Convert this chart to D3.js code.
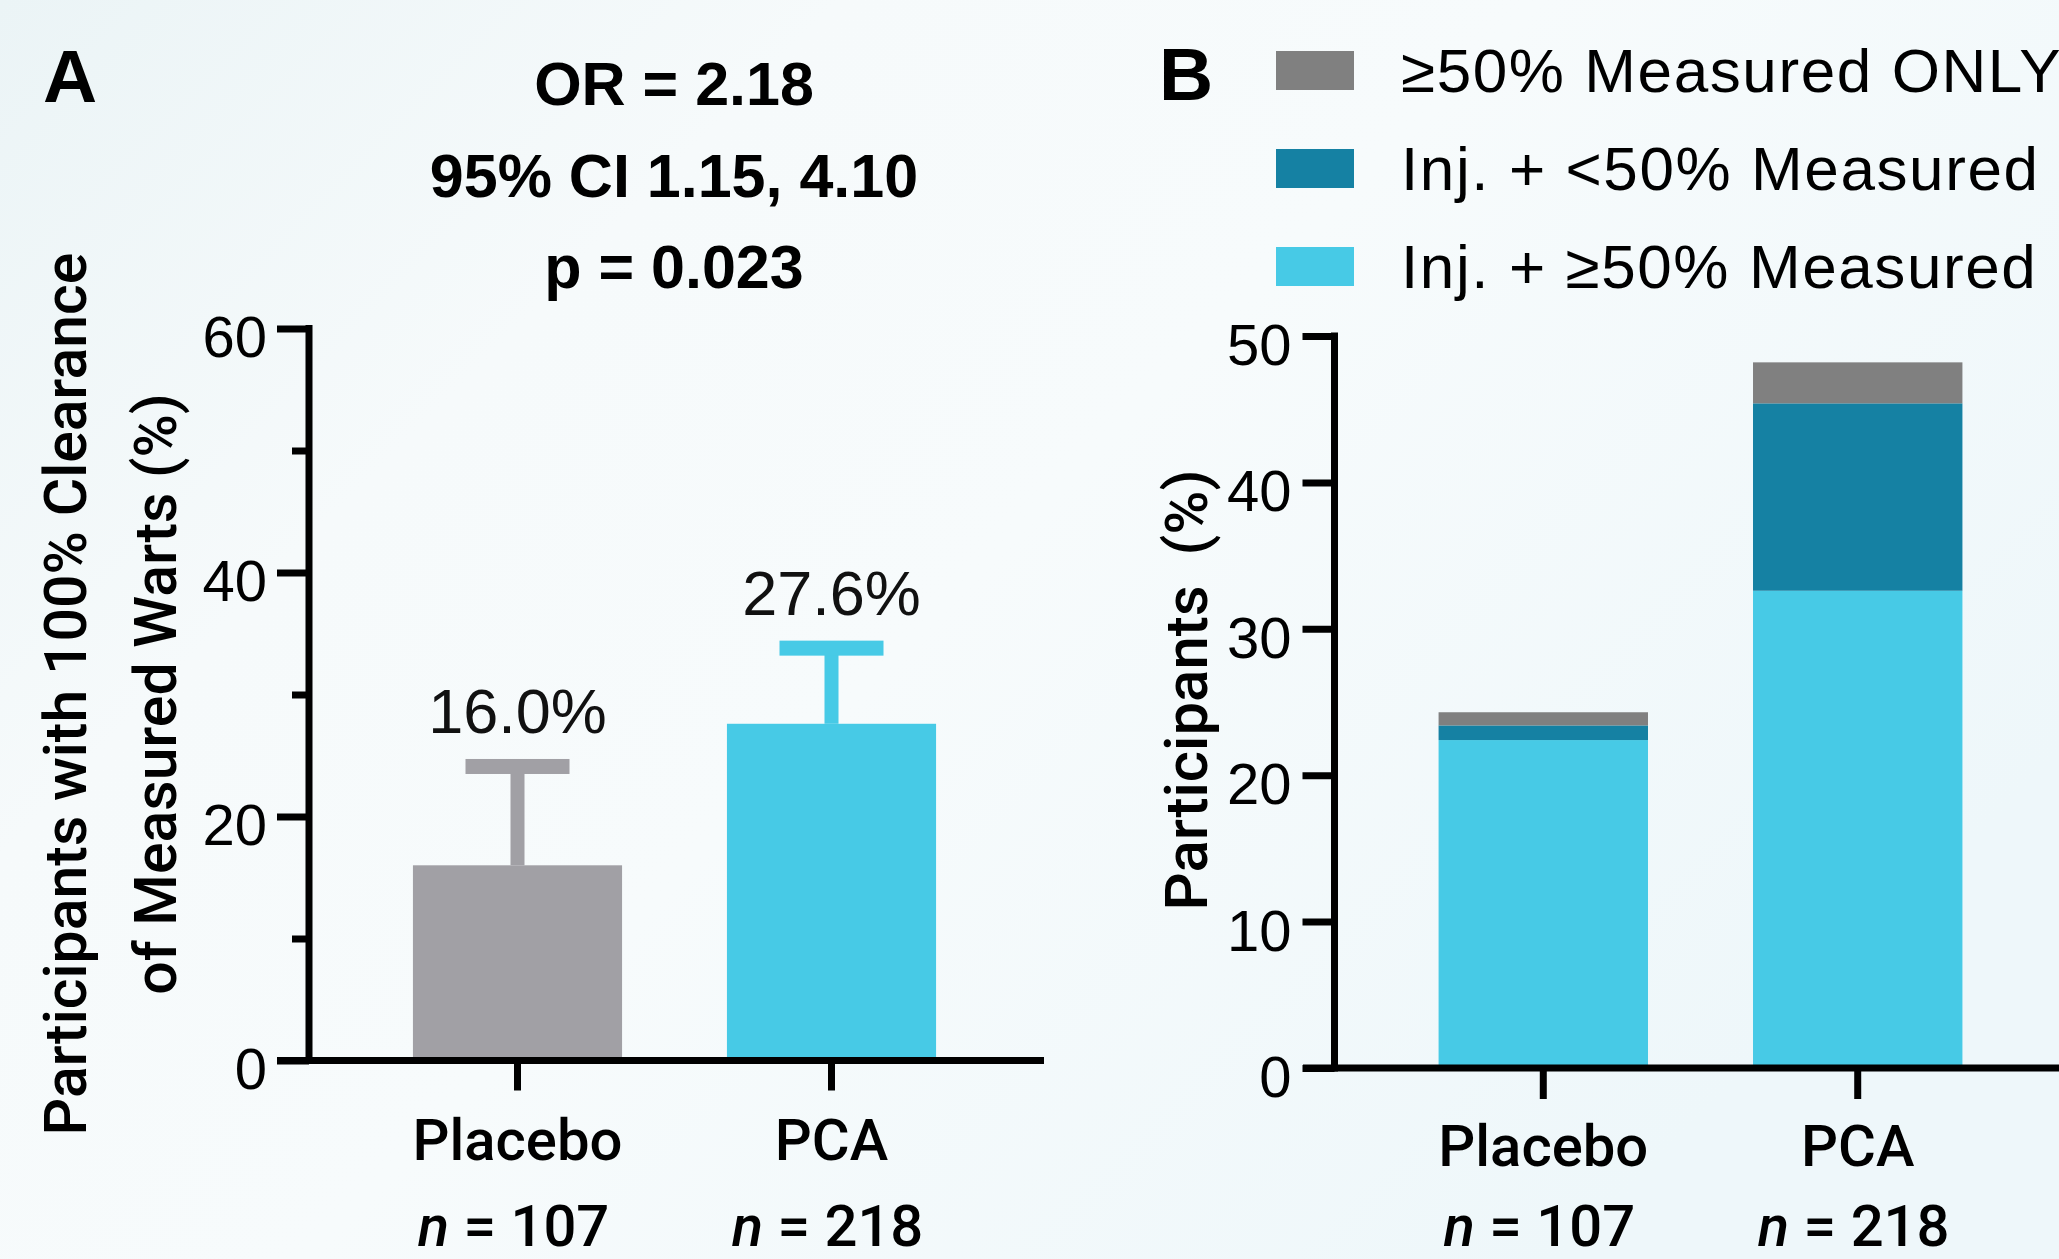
<!DOCTYPE html>
<html><head><meta charset="utf-8">
<script src="https://cdn.jsdelivr.net/npm/d3@7"></script>
<style>html,body{margin:0;padding:0;overflow:hidden;background:#f5fafc}svg{display:block}</style>
</head><body><script>
// ---------- data ----------
const categories = ["Placebo", "PCA"];
const nValues = ["107", "218"];
// Panel A: % participants with 100% clearance and upper 95% CI
const clearance = [16.0, 27.6];
const ciUpper = [24.1, 33.8];
const valueLabels = ["16.0%", "27.6%"];
const statsLines = ["OR = 2.18", "95% CI 1.15, 4.10", "p = 0.023"];
const ticksA = [0, 20, 40, 60];
const minorTicksA = [10, 30, 50];
// Panel B: stacked segments (bottom to top)
const injGE50 = [22.4, 32.6];      // Inj. + ≥50% Measured
const injLT50 = [1.0, 12.8];       // Inj. + <50% Measured
const measuredOnly = [0.9, 2.8];   // ≥50% Measured ONLY
const seriesKeys = ["injGE50", "injLT50", "measuredOnly"];
const seriesNames = ["Inj. + ≥50% Measured", "Inj. + <50% Measured", "≥50% Measured ONLY"];
const ticksB = [0, 10, 20, 30, 40, 50];

// ---------- setup ----------
const W = 2059, H = 1259;
const SANS = "'Liberation Sans', Arial, Helvetica, sans-serif";
const ROBOTO = "Roboto, 'Liberation Sans', Arial, sans-serif";
const colA = ["#a1a0a5", "#47cae6"];
const colB = {injGE50: "#47cae6", injLT50: "#1581a3", measuredOnly: "#808080"};

const svg = d3.select("body").append("svg").attr("width", W).attr("height", H);
const defs = svg.append("defs");
const grad = defs.append("linearGradient").attr("id", "bg")
  .attr("x1", "0").attr("y1", "0").attr("x2", "1").attr("y2", "0.6");
[["0", "#ebf4f6"], ["0.3", "#f6fafb"], ["0.55", "#f7fbfc"], ["1", "#eef7fa"]]
  .forEach(([o, c]) => grad.append("stop").attr("offset", o).attr("stop-color", c));
svg.append("rect").attr("width", W).attr("height", H).attr("fill", "url(#bg)");

// ---------- Panel A ----------
const yA = d3.scaleLinear().domain([0, 60]).range([1060.5, 328.5]);
const xA = d3.scaleBand().domain(categories).range([309, 1040]).paddingInner(0.334).paddingOuter(0.331);
const gA = svg.append("g");

gA.selectAll("rect.bar").data(categories).join("rect").attr("class", "bar")
  .attr("x", d => xA(d)).attr("width", xA.bandwidth())
  .attr("y", (d, i) => yA(clearance[i])).attr("height", (d, i) => yA(0) - yA(clearance[i]))
  .attr("fill", (d, i) => colA[i]);

// error bars
gA.selectAll("rect.stem").data(categories).join("rect").attr("class", "stem")
  .attr("x", d => xA(d) + xA.bandwidth() / 2 - 7).attr("width", 14)
  .attr("y", (d, i) => yA(ciUpper[i])).attr("height", (d, i) => yA(clearance[i]) - yA(ciUpper[i]))
  .attr("fill", (d, i) => colA[i]);
gA.selectAll("rect.cap").data(categories).join("rect").attr("class", "cap")
  .attr("x", d => xA(d) + xA.bandwidth() / 2 - 52).attr("width", 104)
  .attr("y", (d, i) => yA(ciUpper[i]) - 7.5).attr("height", 15)
  .attr("fill", (d, i) => colA[i]);
gA.selectAll("text.val").data(categories).join("text").attr("class", "val")
  .attr("x", d => xA(d) + xA.bandwidth() / 2).attr("y", (d, i) => yA(ciUpper[i]) - 33)
  .attr("text-anchor", "middle").attr("font-family", SANS).attr("font-size", 63).attr("fill", "#111")
  .text((d, i) => valueLabels[i]);

function styleAxis(g, fs) {
  g.select(".domain").remove();
  g.selectAll(".tick line").attr("stroke", "#000").attr("stroke-width", 7);
  g.selectAll(".tick text").attr("font-family", SANS).attr("font-size", fs).attr("fill", "#000");
}
// y axis A
const axA = gA.append("g").attr("transform", "translate(309,0)")
  .call(d3.axisLeft(yA).tickValues(ticksA).tickSize(32).tickPadding(10).tickSizeOuter(0));
styleAxis(axA, 58);
axA.selectAll(".tick text").attr("dy", "0.49em");
const axAm = gA.append("g").attr("transform", "translate(309,0)")
  .call(d3.axisLeft(yA).tickValues(minorTicksA).tickSize(17).tickFormat("").tickSizeOuter(0));
styleAxis(axAm, 58);
gA.append("line").attr("x1", 309).attr("x2", 309).attr("y1", yA(60) - 3.5).attr("y2", yA(0) + 3.5)
  .attr("stroke", "#000").attr("stroke-width", 7);
// x axis A
gA.append("line").attr("x1", 277).attr("x2", 1044).attr("y1", yA(0)).attr("y2", yA(0))
  .attr("stroke", "#000").attr("stroke-width", 7);
const axAx = gA.append("g").attr("transform", `translate(0,${yA(0)})`)
  .call(d3.axisBottom(xA).tickSize(30).tickSizeOuter(0).tickFormat(""));
styleAxis(axAx, 58);

// ---------- Panel B ----------
const yB = d3.scaleLinear().domain([0, 50]).range([1068, 336]);
const xB = d3.scaleBand().domain(categories).range([1334.5, 2066.5]).paddingInner(0.334).paddingOuter(0.331);
const gB = svg.append("g");
const tableB = categories.map((c, i) => ({cat: c, injGE50: injGE50[i], injLT50: injLT50[i], measuredOnly: measuredOnly[i]}));
const stacked = d3.stack().keys(seriesKeys)(tableB);
gB.selectAll("g.series").data(stacked).join("g").attr("class", "series")
  .attr("fill", s => colB[s.key])
  .selectAll("rect").data(s => s).join("rect")
  .attr("x", d => xB(d.data.cat)).attr("width", xB.bandwidth())
  .attr("y", d => yB(d[1])).attr("height", d => yB(d[0]) - yB(d[1]));

const axB = gB.append("g").attr("transform", "translate(1334.5,0)")
  .call(d3.axisLeft(yB).tickValues(ticksB).tickSize(32).tickPadding(11).tickSizeOuter(0));
styleAxis(axB, 58);
axB.selectAll(".tick text").attr("dy", "0.49em");
gB.append("line").attr("x1", 1334.5).attr("x2", 1334.5).attr("y1", yB(50) - 3.5).attr("y2", yB(0) + 3.5)
  .attr("stroke", "#000").attr("stroke-width", 7);
gB.append("line").attr("x1", 1303).attr("x2", W).attr("y1", yB(0)).attr("y2", yB(0))
  .attr("stroke", "#000").attr("stroke-width", 7);
const axBx = gB.append("g").attr("transform", `translate(0,${yB(0)})`)
  .call(d3.axisBottom(xB).tickSize(31).tickSizeOuter(0).tickFormat(""));
styleAxis(axBx, 58);

// category + n labels
function catLabels(g, x, yCat, yN) {
  g.selectAll(null).data(categories).join("text")
    .attr("x", d => x(d) + x.bandwidth() / 2).attr("y", yCat)
    .attr("text-anchor", "middle").attr("font-family", ROBOTO).attr("font-weight", 500)
    .attr("font-size", 58).attr("fill", "#000").text(d => d);
  const t = g.selectAll(null).data(categories).join("text")
    .attr("x", d => x(d) + x.bandwidth() / 2 - 4).attr("y", yN)
    .attr("text-anchor", "middle").attr("font-family", ROBOTO).attr("font-weight", 500)
    .attr("font-size", 58).attr("fill", "#000");
  t.append("tspan").attr("font-style", "italic").text("n");
  t.append("tspan").text((d, i) => " = " + nValues[i]);
}
catLabels(gA, xA, 1160, 1246);
catLabels(gB, xB, 1166, 1246);

// legend (top to bottom: reverse stack order)
const legendOrder = seriesKeys.slice().reverse();
const lg = svg.append("g");
legendOrder.forEach((k, i) => {
  const y0 = 51 + i * 98;
  lg.append("rect").attr("x", 1276).attr("y", y0).attr("width", 78).attr("height", 39).attr("fill", colB[k]);
  lg.append("text").attr("x", 1401).attr("y", y0 + 41).attr("font-family", SANS).attr("font-size", 62)
    .attr("letter-spacing", 1.6).attr("fill", "#000")
    .text(seriesNames[seriesKeys.indexOf(k)]);
});

// ---------- titles ----------
svg.append("text").attr("x", 43).attr("y", 102).attr("font-family", SANS).attr("font-weight", "bold")
  .attr("font-size", 75).attr("fill", "#000").text("A");
svg.append("text").attr("x", 1159).attr("y", 100).attr("font-family", SANS).attr("font-weight", "bold")
  .attr("font-size", 75).attr("fill", "#000").text("B");
svg.selectAll("text.stat").data(statsLines).join("text").attr("class", "stat")
  .attr("x", 674).attr("y", (d, i) => [105, 197, 288][i])
  .attr("text-anchor", "middle").attr("font-family", SANS).attr("font-weight", "bold")
  .attr("font-size", 61).attr("fill", "#000").text(d => d);

// y titles
function yTitle(x, y, txt, fs) {
  svg.append("text").attr("transform", `translate(${x},${y}) rotate(-90)`)
    .attr("text-anchor", "middle").attr("font-family", ROBOTO).attr("font-weight", 500)
    .attr("font-size", fs).attr("fill", "#000").attr("xml:space", "preserve").style("white-space", "pre").text(txt);
}
yTitle(86, 694, "Participants with 100% Clearance", 59);
yTitle(176, 694, "of Measured Warts (%)", 59);
yTitle(1207, 690, "Participants  (%)", 60);
</script></body></html>
